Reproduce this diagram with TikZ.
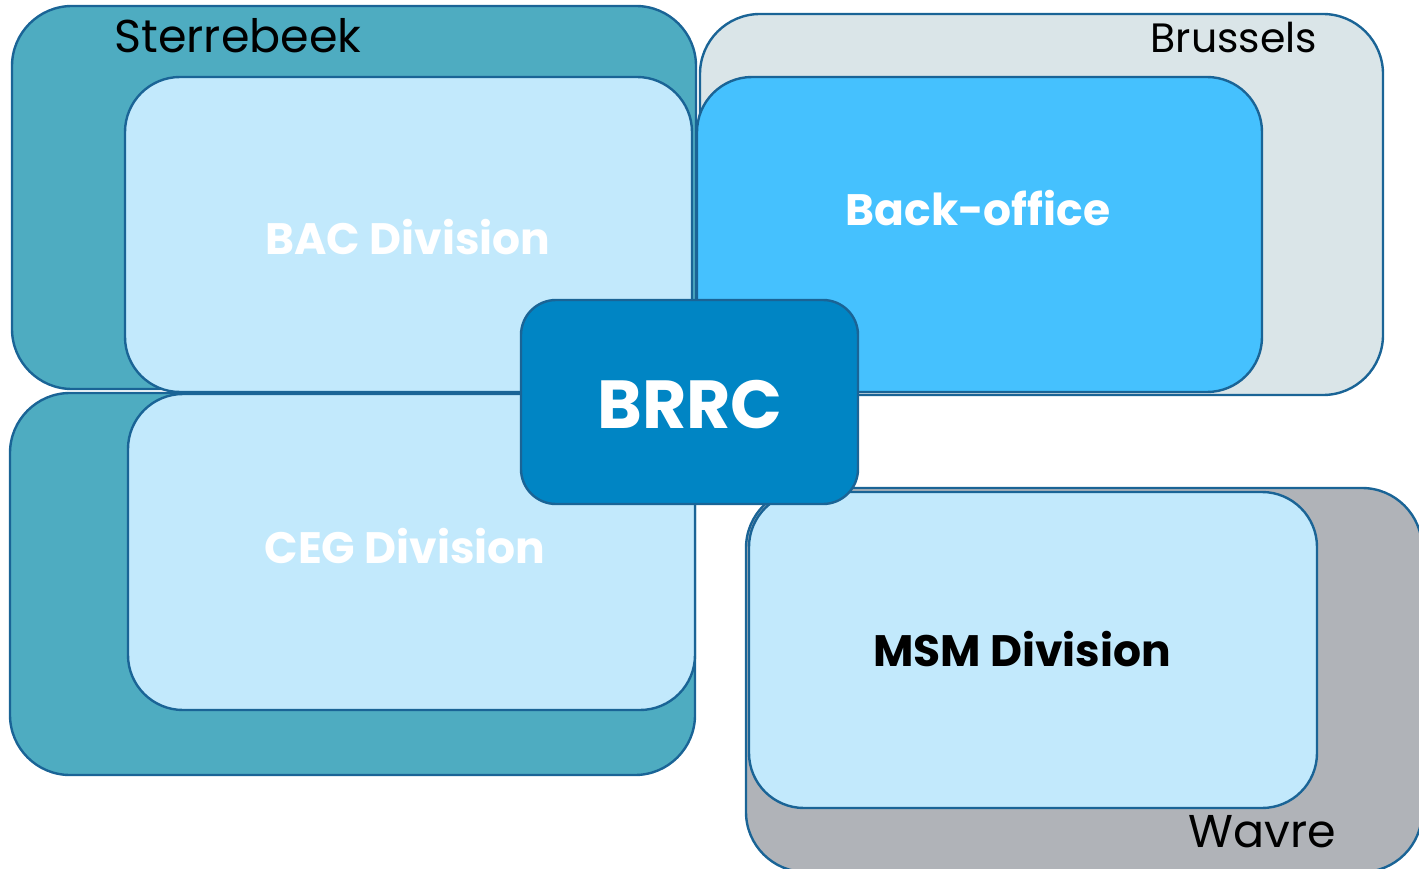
\documentclass[tikz,border=0pt]{standalone}
\usepackage{fontspec}
\setmainfont{Poppins}
\usepackage{xcolor}
\usetikzlibrary{positioning}
\definecolor{edge}{HTML}{1A6496}
\definecolor{teal}{HTML}{4EACC1}
\definecolor{pale}{HTML}{C2E9FC}
\definecolor{mist}{HTML}{DAE5E8}
\definecolor{sky}{HTML}{45C1FE}
\definecolor{core}{HTML}{0085C4}
\definecolor{stone}{HTML}{B0B3B8}

\tikzset{
  site/.style={draw=edge, line width=2.4pt, rounded corners=60pt, inner sep=0pt},
  division/.style={draw=edge, line width=2.4pt, rounded corners=55pt, inner sep=0pt, fill=pale},
  sitename/.style={font=\fontsize{46}{50}\selectfont, text=black},
  divname/.style={font=\bfseries\fontsize{44}{48}\selectfont, text=white}
}

\begin{document}
\begin{tikzpicture}[x=1pt, y=-1pt]
        \useasboundingbox (0,0) rectangle (1419,869);
        \clip (0,0) rectangle (1419,869);

        % Sites
        \node[site, fill=teal, minimum width=684pt, minimum height=383pt] (sterTop) at (354,197.5) {};
        \node[site, fill=teal, minimum width=685pt, minimum height=382pt] (sterBot) at (352.5,584) {};
        \node[site, fill=mist, minimum width=683pt, minimum height=381pt] (brussels) at (1041.5,204.5) {};
        \node[sitename] (sterName) at (238,36) {Sterrebeek};
        \node[sitename, font=\fontsize{41}{45}\selectfont] (brusName) at (1234,38) {Brussels};

        % Divisions of Sterrebeek
        \node[division, minimum width=567pt, minimum height=315pt] (bac) at (408.5,234.5) {};
        \node[division, minimum width=567pt, minimum height=316pt] (ceg) at (411.5,552) {};
        \node[divname] (bacName) at (408,237) {BAC Division};
        \node[divname] (cegName) at (405,546) {CEG Division};

        % Back-office in Brussels
        \node[division, fill=sky, minimum width=565pt, minimum height=315pt] (back) at (979.5,234.5) {};
        \node[divname] (backName) at (978,208) {Back-office};

        % Wavre
        \node[site, fill=stone, minimum width=676pt, minimum height=384pt] (wavre) at (1084,680) {};
        \node[division, minimum width=568pt, minimum height=316pt] (msm) at (1033,650) {};
        \node[divname, text=black] (msmName) at (1022,649) {MSM Division};
        \node[sitename] (wavName) at (1262,832) {Wavre};

        % Centre
        \node[draw=edge, line width=2.4pt, rounded corners=35pt, fill=core, minimum width=337pt, minimum height=204pt] (brrc) at (689.5,402) {};
        \node[divname, font=\bfseries\fontsize{68}{72}\selectfont] (brrcName) at (690,405) {BRRC};
    \end{tikzpicture}
\end{document}
